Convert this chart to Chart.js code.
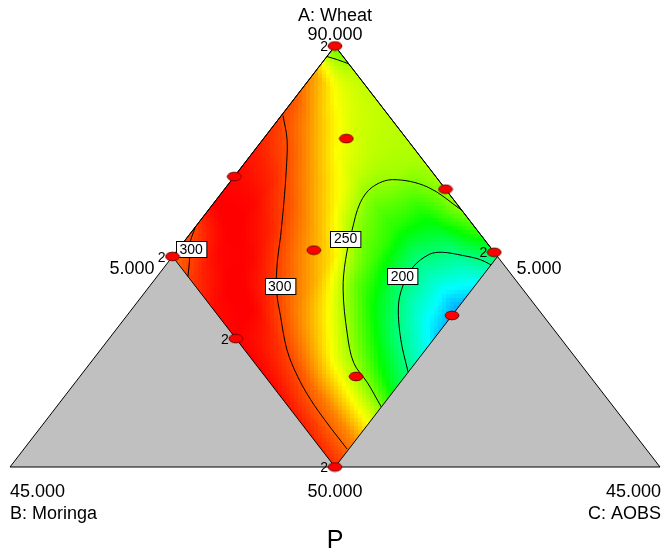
<!DOCTYPE html>
<html>
<head>
<meta charset="utf-8">
<script src="https://cdn.jsdelivr.net/npm/chart.js@4.4.1/dist/chart.umd.min.js"></script>
<style>
  html, body { margin: 0; padding: 0; background: #fff; }
  #wrap { position: relative; width: 669px; height: 552px; }
</style>
</head>
<body>
<div id="wrap"><canvas id="ternary"></canvas></div>
<script>
// simplex ranges of the three components
const wheatRange = [50, 90];
const moringaRange = [5, 45];
const aobsRange = [5, 45];

// response P, rows = Moringa level, cols = AOBS level
const gridMoringa = [5, 7.5, 10, 12.5, 15, 17.5, 20, 22.5, 25];
const gridAobs = [5, 7.5, 10, 12.5, 15, 17.5, 20, 22.5, 25];
const gridP = [
  [240, 257, 258, 257, 255, 253, 251, 236, 207],
  [284, 268, 261, 257, 252, 235, 220, 201, 184],
  [297, 283, 269, 259, 243, 231, 207, 190, 168],
  [302, 295, 283, 270, 250, 236, 210, 192, 175],
  [307, 304, 295, 283, 271, 243, 224, 206, 195],
  [310, 310, 304, 292, 282, 263, 246, 231, 217],
  [311, 312, 310, 302, 291, 280, 266, 260, 257],
  [299, 309, 312, 311, 304, 298, 292, 289, 287],
  [292, 302, 309, 311, 311, 310, 307, 305, 304]
];
const colorMin = 140;
const colorMax = 311;

// contour lines as [Wheat, AOBS] pairs
const contour300a = [[83.4,5.1],[81.1,6.5],[78.2,7.9],[75.1,9.3],[71.9,10.7],[69.5,11.7],[66.8,13.0],[64.3,14.5],[61.1,16.5],[58.6,18.4],[56.4,20.3],[54.2,22.4],[51.7,24.9]];
const contour300b = [[72.8,5.0],[71.1,5.5],[69.7,6.2],[68.1,6.9]];
const contour250a = [[74.4,20.6],[76.6,17.4],[77.3,14.9],[76.6,14.0],[75.1,14.0],[72.5,14.8],[69.7,15.8],[66.8,17.1],[62.7,19.4],[59.9,21.2],[58.0,23.0],[55.7,25.0]];
const contour250b = [[89.0,5.0],[88.7,5.8],[88.3,6.7]];
const contour200 = [[69.2,25.0],[69.7,24.1],[70.1,22.8],[70.4,21.4],[70.2,20.7],[69.0,20.3],[67.1,20.6],[65.2,21.3],[62.1,23.0],[59.0,25.0]];

const labelText = ['300', '300', '250', '200'];
const labelWheat = [70.7, 67.2, 71.7, 68.1];
const labelAobs = [5.8, 13.0, 14.8, 20.1];

// design points
const designWheat = [90, 81.2, 77.6, 76.4, 70.6, 70, 70.4, 62.2, 64.4, 58.6, 50];
const designAobs = [5, 10.1, 5, 18.6, 13.4, 5, 24.6, 12.8, 25, 22.0, 25];
const designReps = [2, 1, 1, 1, 1, 2, 2, 2, 1, 1, 2];

const FONT = "'Liberation Sans', Arial, sans-serif";

function toXY(wheat, aobs) {
  const a = (wheat - wheatRange[0]) / (wheatRange[1] - wheatRange[0]);
  const c = (aobs - aobsRange[0]) / (aobsRange[1] - aobsRange[0]);
  return { x: c + a / 2, y: a };
}

function fromXY(x, y) {
  const span = wheatRange[1] - wheatRange[0];
  const c = x - y / 2;
  const b = 1 - y - c;
  return { wheat: wheatRange[0] + span * y, moringa: moringaRange[0] + span * b, aobs: aobsRange[0] + span * c };
}

function responseAt(moringa, aobs) {
  const n = gridMoringa.length - 1;
  const step = gridMoringa[1] - gridMoringa[0];
  const fi = Math.min(Math.max((moringa - gridMoringa[0]) / step, 0), n);
  const fj = Math.min(Math.max((aobs - gridAobs[0]) / step, 0), n);
  const i0 = Math.min(Math.floor(fi), n - 1);
  const j0 = Math.min(Math.floor(fj), n - 1);
  const ti = fi - i0, tj = fj - j0;
  const top = gridP[i0][j0] * (1 - tj) + gridP[i0][j0 + 1] * tj;
  const bot = gridP[i0 + 1][j0] * (1 - tj) + gridP[i0 + 1][j0 + 1] * tj;
  return top * (1 - ti) + bot * ti;
}

function colorFor(v) {
  let h = 240 * (colorMax - v) / (colorMax - colorMin);
  h = Math.min(Math.max(h, 0), 240);
  return `hsl(${h.toFixed(1)}, 100%, 50%)`;
}

function toPixel(chart, wheat, aobs) {
  const p = toXY(wheat, aobs);
  return { x: chart.scales.x.getPixelForValue(p.x), y: chart.scales.y.getPixelForValue(p.y) };
}

function polyPath(ctx, chart, pts) {
  ctx.beginPath();
  pts.forEach((p, i) => {
    const q = toPixel(chart, p[0], p[1]);
    if (i === 0) ctx.moveTo(q.x, q.y); else ctx.lineTo(q.x, q.y);
  });
  ctx.closePath();
}

// red ellipse used for the design points
function makeMarker() {
  const c = document.createElement('canvas');
  c.width = 16; c.height = 11;
  const g = c.getContext('2d');
  g.beginPath();
  g.ellipse(8, 5.5, 6.9, 4.3, 0, 0, Math.PI * 2);
  g.fillStyle = '#ff0000';
  g.fill();
  g.lineWidth = 1;
  g.strokeStyle = '#6e0000';
  g.stroke();
  return c;
}

const diamond = [[90, 5], [70, 5], [50, 25], [70, 25]];
const outer = [[90, 5], [50, 5], [50, 45]];
const grayLeft = [[50, 5], [70, 5], [50, 25]];
const grayRight = [[50, 25], [70, 25], [50, 45]];

const ternaryPlugin = {
  id: 'ternary',
  beforeDatasetsDraw(chart) {
    const ctx = chart.ctx;
    const area = chart.chartArea;
    const sx = chart.scales.x, sy = chart.scales.y;
    ctx.save();
    ctx.fillStyle = '#c0c0c0';
    polyPath(ctx, chart, grayLeft); ctx.fill();
    polyPath(ctx, chart, grayRight); ctx.fill();

    ctx.save();
    polyPath(ctx, chart, diamond);
    ctx.clip();
    const cell = 4;
    for (let px = area.left; px < area.right; px += cell) {
      for (let py = area.top - cell; py < area.bottom; py += cell) {
        const d = fromXY(sx.getValueForPixel(px + cell / 2), sy.getValueForPixel(py + cell / 2));
        if (d.moringa < 3 || d.moringa > 27 || d.aobs < 3 || d.aobs > 27) continue;
        ctx.fillStyle = colorFor(responseAt(d.moringa, d.aobs));
        ctx.fillRect(px, py, cell + 0.6, cell + 0.6);
      }
    }
    ctx.restore();

    ctx.strokeStyle = '#000';
    ctx.lineWidth = 1;
    polyPath(ctx, chart, outer); ctx.stroke();
    polyPath(ctx, chart, diamond); ctx.stroke();
    ctx.restore();
  },
  beforeDatasetDraw(chart, args) {
    if (args.index !== 0) return;
    const ctx = chart.ctx;
    ctx.save();
    ctx.font = '14px ' + FONT;
    ctx.textAlign = 'center';
    ctx.textBaseline = 'middle';
    labelText.forEach((t, i) => {
      const q = toPixel(chart, labelWheat[i], labelAobs[i]);
      const w = ctx.measureText(t).width + 7;
      const h = 16;
      const x0 = Math.round(q.x - w / 2) + 0.5, y0 = Math.round(q.y - h / 2) + 0.5;
      ctx.fillStyle = '#fff';
      ctx.fillRect(x0, y0, w, h);
      ctx.strokeStyle = '#000';
      ctx.lineWidth = 1;
      ctx.strokeRect(x0, y0, w, h);
      ctx.fillStyle = '#000';
      ctx.fillText(t, q.x, q.y + 1);
    });
    ctx.restore();
  },
  afterDatasetsDraw(chart) {
    const ctx = chart.ctx;
    ctx.save();
    ctx.fillStyle = '#000';
    ctx.font = '14px ' + FONT;
    ctx.textAlign = 'right';
    ctx.textBaseline = 'alphabetic';
    designWheat.forEach((w, i) => {
      if (designReps[i] < 2) return;
      const q = toPixel(chart, w, designAobs[i]);
      ctx.fillText(String(designReps[i]), q.x - 7, q.y + 5);
    });

    const apex = toPixel(chart, 90, 5);
    const vB = toPixel(chart, 50, 5);
    const vC = toPixel(chart, 50, 45);
    const mid = toPixel(chart, 50, 25);
    const dl = toPixel(chart, 70, 5);
    const dr = toPixel(chart, 70, 25);

    ctx.font = '18px ' + FONT;
    ctx.textAlign = 'center';
    ctx.fillText('A: Wheat', apex.x, apex.y - 25);
    ctx.fillText('90.000', apex.x, apex.y - 6);
    ctx.fillText('50.000', mid.x, mid.y + 30);
    ctx.textAlign = 'left';
    ctx.fillText('45.000', vB.x, vB.y + 30);
    ctx.fillText('B: Moringa', vB.x, vB.y + 52);
    ctx.fillText('5.000', dr.x + 19, dr.y + 17);
    ctx.textAlign = 'right';
    ctx.fillText('45.000', vC.x + 1, vC.y + 30);
    ctx.fillText('C: AOBS', vC.x + 1, vC.y + 52);
    ctx.fillText('5.000', dl.x - 18, dl.y + 17);
    ctx.font = '25px ' + FONT;
    ctx.textAlign = 'center';
    ctx.fillText('P', mid.x, mid.y + 81);
    ctx.restore();
  }
};

function contourSet(pts) {
  return {
    data: pts.map(p => toXY(p[0], p[1])),
    showLine: true,
    borderColor: '#000',
    borderWidth: 1,
    pointRadius: 0,
    tension: 0.35,
    fill: false,
    clip: false
  };
}

const designSet = {
  label: 'design',
  data: designWheat.map((w, i) => toXY(w, designAobs[i])),
  pointStyle: makeMarker(),
  pointRadius: 6,
  showLine: false,
  clip: false
};

new Chart(document.getElementById('ternary'), {
  type: 'scatter',
  data: {
    datasets: [
      designSet,
      contourSet(contour300a),
      contourSet(contour300b),
      contourSet(contour250a),
      contourSet(contour250b),
      contourSet(contour200)
    ]
  },
  options: {
    responsive: true,
    maintainAspectRatio: false,
    animation: false,
    layout: { padding: { left: 10, right: 9, top: 46, bottom: 85 } },
    plugins: { legend: { display: false }, tooltip: { enabled: false } },
    scales: {
      x: { type: 'linear', min: 0, max: 1, display: false },
      y: { type: 'linear', min: 0, max: 1, display: false }
    }
  },
  plugins: [ternaryPlugin]
});
</script>
</body>
</html>
